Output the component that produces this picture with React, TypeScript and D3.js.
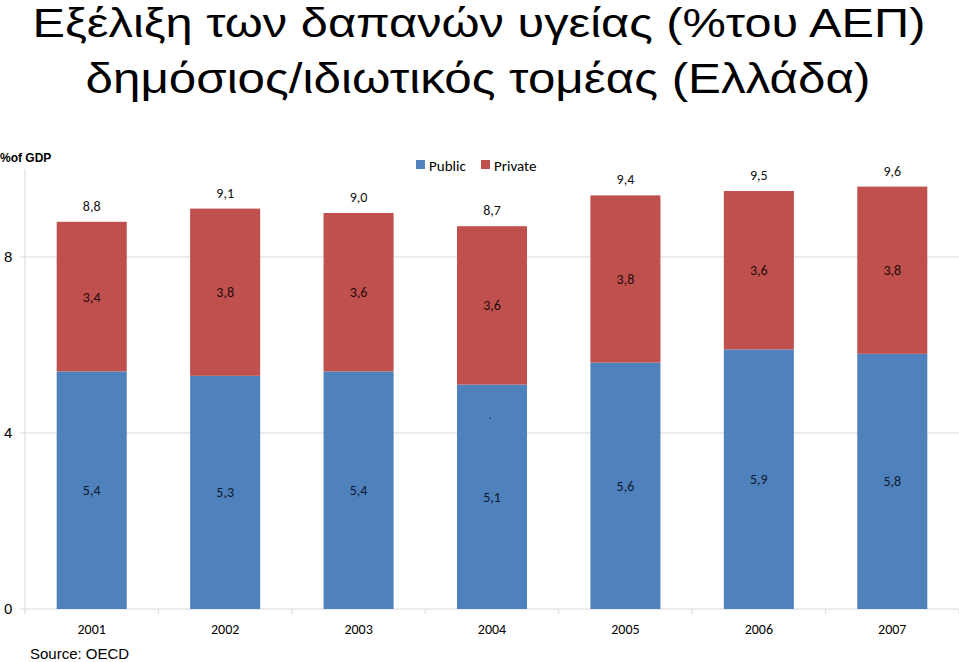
import React from "react";
import * as d3 from "d3";

const years = ["2001", "2002", "2003", "2004", "2005", "2006", "2007"];
const publicVals = [5.4, 5.3, 5.4, 5.1, 5.6, 5.9, 5.8];
const privateVals = [3.4, 3.8, 3.6, 3.6, 3.8, 3.6, 3.8];
const totalVals = [8.8, 9.1, 9.0, 8.7, 9.4, 9.5, 9.6];
const yTicks = [0, 4, 8];
const titleLines = [
  "Εξέλιξη των δαπανών υγείας (%του ΑΕΠ)",
  "δημόσιος/ιδιωτικός τομέας  (Ελλάδα)",
];
const seriesNames = ["Public", "Private"];

const W = 959;
const H = 662;
const BLUE = "#4F81BD";
const RED = "#C0504D";
const LABEL_FONT = "Carlito, Lato, 'Open Sans', sans-serif";
const TITLE_FONT = "'Liberation Sans Narrow', 'Liberation Sans', Arial, sans-serif";

const fmt = (v: number) => v.toFixed(1).replace(".", ",");

export default function App() {
  const x = d3.scaleBand<string>().domain(years).range([25, 959]).paddingInner(0.475).paddingOuter(0.2375);
  const y = d3.scaleLinear().domain([0, 10]).range([609, 169]);
  const bw = x.bandwidth();
  const step = x.step();
  const boundaries = d3.range(years.length + 1).map((i) => 25 + i * step);

  return (
    <svg width={W} height={H} style={{ position: "absolute", left: 0, top: 0, background: "#fff" }}>
      {/* title */}
      <text x={479} y={37} textAnchor="middle" fontFamily={TITLE_FONT} fontSize={41} textLength={893} lengthAdjust="spacingAndGlyphs" fill="#000">
        {titleLines[0]}
      </text>
      <text x={478} y={93} textAnchor="middle" fontFamily={TITLE_FONT} fontSize={42} textLength={785} lengthAdjust="spacingAndGlyphs" fill="#000">
        {titleLines[1]}
      </text>

      {/* y axis label */}
      <text x={0} y={162} fontFamily="'Liberation Sans', Arial, sans-serif" fontWeight="bold" fontSize={12} fill="#000">%of GDP</text>

      {/* gridlines */}
      {yTicks.map((t) => (
        <g key={t}>
          <line x1={25} x2={959} y1={y(t)} y2={y(t)} stroke="#d9d9d9" strokeWidth={1} />
          <line x1={20} x2={25} y1={y(t)} y2={y(t)} stroke="#d9d9d9" strokeWidth={1} />
          <text x={4} y={y(t) + 5} fontFamily="'Liberation Sans', Arial, sans-serif" fontSize={15} fill="#000">{t}</text>
        </g>
      ))}
      <line x1={25} x2={25} y1={169} y2={609} stroke="#d9d9d9" strokeWidth={1} />
      {boundaries.map((b, i) => (
        <line key={i} x1={b} x2={b} y1={609} y2={614} stroke="#d9d9d9" strokeWidth={1} />
      ))}

      {/* bars */}
      {years.map((yr, i) => {
        const x0 = x(yr)!;
        const cx = x0 + bw / 2;
        const pubTop = y(publicVals[i]);
        const totTop = y(totalVals[i]);
        return (
          <g key={yr}>
            <rect x={x0} y={pubTop} width={bw} height={y(0) - pubTop} fill={BLUE} />
            <rect x={x0} y={totTop} width={bw} height={pubTop - totTop} fill={RED} />
            <text x={cx} y={(y(0) + pubTop) / 2 + 5} textAnchor="middle" fontFamily={LABEL_FONT} fontSize={14} fill="#0d1a33">{fmt(publicVals[i])}</text>
            <text x={cx} y={(pubTop + totTop) / 2 + 5} textAnchor="middle" fontFamily={LABEL_FONT} fontSize={14} fill="#1a0a0a">{fmt(privateVals[i])}</text>
            <text x={cx} y={totTop - 11} textAnchor="middle" fontFamily={LABEL_FONT} fontSize={14} fill="#111">{fmt(totalVals[i])}</text>
            <text x={cx} y={634} textAnchor="middle" fontFamily={LABEL_FONT} fontSize={14} fill="#000">{yr}</text>
          </g>
        );
      })}
      <text x={x("2004")! + bw / 2 - 4} y={426} fontFamily={LABEL_FONT} fontSize={13} fill="#0d1a33">`</text>

      {/* legend */}
      <rect x={416} y={160} width={9} height={9} fill={BLUE} />
      <text x={429} y={171} fontFamily={LABEL_FONT} fontSize={15} fill="#000">{seriesNames[0]}</text>
      <rect x={481} y={160} width={9} height={9} fill={RED} />
      <text x={494} y={171} fontFamily={LABEL_FONT} fontSize={15} fill="#000">{seriesNames[1]}</text>

      {/* source */}
      <text x={30} y={659} fontFamily="'Liberation Sans', Arial, sans-serif" fontSize={15} fill="#000">Source: OECD</text>
    </svg>
  );
}
